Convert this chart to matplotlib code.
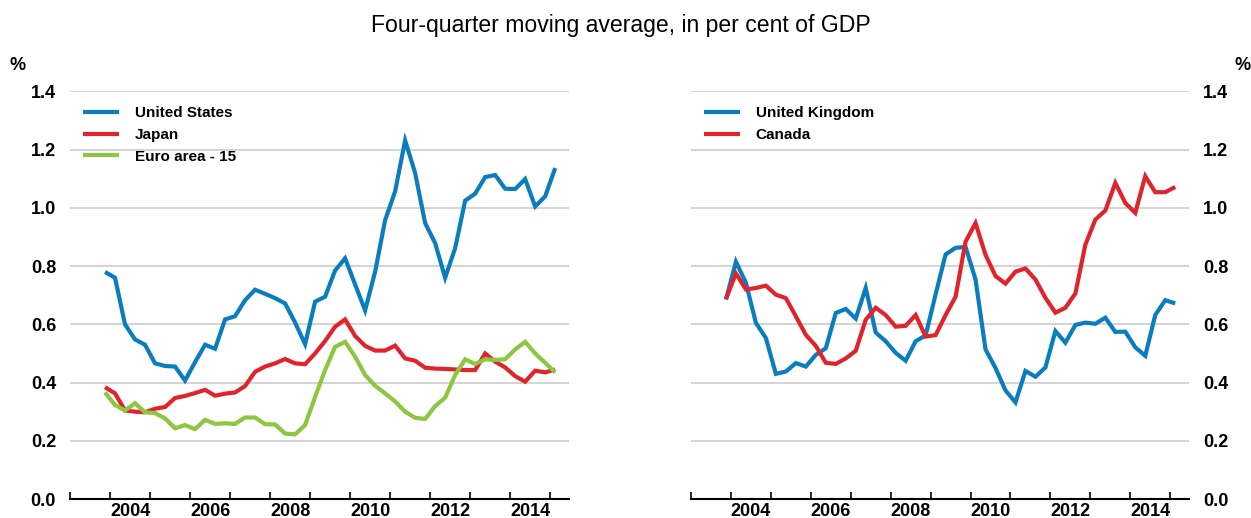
import numpy as np
import matplotlib
matplotlib.use("Agg")
import matplotlib.pyplot as plt

plt.rcParams['font.family'] = ['Liberation Sans', 'DejaVu Sans']

# quarterly observations, 2003Q4 .. 2015Q1 (plotted at mid-quarter)
QUARTERS = np.arange(2003.875, 2015.2, 0.25)

united_states = [0.78, 0.76, 0.60, 0.548, 0.53, 0.466, 0.457, 0.455, 0.407, 0.47,
                 0.53, 0.516, 0.617, 0.628, 0.683, 0.719, 0.705, 0.69, 0.672, 0.606,
                 0.532, 0.678, 0.695, 0.785, 0.827, 0.737, 0.648, 0.781, 0.958, 1.057,
                 1.232, 1.12, 0.948, 0.879, 0.76, 0.862, 1.025, 1.049, 1.106, 1.113,
                 1.066, 1.065, 1.099, 1.005, 1.04, 1.137]
japan = [0.384, 0.363, 0.304, 0.30, 0.298, 0.31, 0.316, 0.347, 0.354, 0.364,
         0.375, 0.355, 0.362, 0.366, 0.388, 0.437, 0.455, 0.466, 0.481, 0.466,
         0.463, 0.50, 0.543, 0.592, 0.617, 0.56, 0.526, 0.51, 0.51, 0.527,
         0.483, 0.475, 0.451, 0.448, 0.447, 0.445, 0.443, 0.443, 0.50, 0.472,
         0.452, 0.422, 0.403, 0.441, 0.435, 0.445]
euro_area = [0.366, 0.323, 0.304, 0.329, 0.298, 0.295, 0.277, 0.243, 0.254, 0.24,
             0.272, 0.258, 0.26, 0.258, 0.28, 0.28, 0.257, 0.256, 0.225, 0.222,
             0.254, 0.351, 0.443, 0.523, 0.54, 0.489, 0.426, 0.389, 0.363, 0.335,
             0.30, 0.279, 0.275, 0.319, 0.348, 0.426, 0.48, 0.464, 0.48, 0.478,
             0.48, 0.514, 0.54, 0.50, 0.468, 0.435]

united_kingdom = [0.685, 0.815, 0.743, 0.605, 0.553, 0.43, 0.438, 0.467, 0.455, 0.495,
                  0.518, 0.639, 0.653, 0.62, 0.725, 0.572, 0.542, 0.502, 0.475, 0.542,
                  0.562, 0.703, 0.84, 0.863, 0.866, 0.754, 0.514, 0.45, 0.373, 0.332,
                  0.44, 0.42, 0.452, 0.577, 0.537, 0.598, 0.606, 0.602, 0.623, 0.574,
                  0.575, 0.521, 0.492, 0.632, 0.683, 0.672]
canada = [0.687, 0.775, 0.72, 0.725, 0.733, 0.702, 0.69, 0.628, 0.564, 0.526,
          0.468, 0.464, 0.483, 0.509, 0.616, 0.657, 0.632, 0.592, 0.595, 0.632,
          0.558, 0.563, 0.632, 0.695, 0.884, 0.948, 0.839, 0.766, 0.74, 0.781,
          0.792, 0.754, 0.691, 0.64, 0.657, 0.706, 0.874, 0.96, 0.991, 1.086,
          1.017, 0.983, 1.109, 1.054, 1.054, 1.072]

left_series = [("United States", united_states), ("Japan", japan), ("Euro area - 15", euro_area)]
right_series = [("United Kingdom", united_kingdom), ("Canada", canada)]

BLUE = '#0A7DC0'
RED = '#E1232B'
GREEN = '#8DC63F'
left_colors = [BLUE, RED, GREEN]
right_colors = [BLUE, RED]

year_ticks = np.arange(2003, 2016)
label_years = [2004, 2006, 2008, 2010, 2012, 2014]
y_ticks = [0.0, 0.2, 0.4, 0.6, 0.8, 1.0, 1.2, 1.4]


def style_axis(ax, side):
    ax.set_xlim(2003, 2015.47)
    ax.set_ylim(0, 1.4)
    for s in ['top', 'left', 'right']:
        ax.spines[s].set_visible(False)
    ax.spines['bottom'].set_linewidth(1.5)
    ax.spines['bottom'].set_color('black')
    ax.set_yticks(y_ticks)
    ax.set_yticklabels([f"{v:.1f}" for v in y_ticks], fontsize=13, fontweight='bold')
    ax.yaxis.grid(True, color='#D4D4D4', linewidth=1.4)
    ax.set_axisbelow(True)
    ax.tick_params(axis='y', length=0, pad=10)
    if side == 'right':
        ax.yaxis.tick_right()
    ax.set_xticks(year_ticks)
    ax.set_xticklabels([])
    ax.tick_params(axis='x', which='major', direction='in', length=5, width=1.2)
    ax.set_xticks([y + 0.5 for y in label_years], minor=True)
    ax.set_xticklabels([str(y) for y in label_years], minor=True, fontsize=13, fontweight='bold')
    ax.tick_params(axis='x', which='minor', length=0, pad=3)


fig = plt.figure(figsize=(12.51, 5.18), dpi=100)
ax1 = fig.add_axes([70 / 1251, 1 - 499 / 518, 499 / 1251, 407.5 / 518])
ax2 = fig.add_axes([691 / 1251, 1 - 499 / 518, 498 / 1251, 407.5 / 518])

for (name, vals), c in zip(left_series, left_colors):
    ax1.plot(QUARTERS, vals, color=c, linewidth=3, label=name,
             solid_joinstyle='miter', solid_capstyle='butt')
for (name, vals), c in zip(right_series, right_colors):
    ax2.plot(QUARTERS, vals, color=c, linewidth=3, label=name,
             solid_joinstyle='miter', solid_capstyle='butt')

style_axis(ax1, 'left')
style_axis(ax2, 'right')

for ax in (ax1, ax2):
    ax.legend(loc='upper left', bbox_to_anchor=(0.01, 0.982), frameon=False,
              prop={'size': 11, 'weight': 'bold'}, handlelength=2.35,
              handletextpad=1.05, labelspacing=0.5, borderaxespad=0.1)

fig.text(0.496, 0.95, "Four-quarter moving average, in per cent of GDP",
         ha='center', va='center', fontsize=16.6)
fig.text(18 / 1251, 1 - 66 / 518, "%", ha='center', va='center', fontsize=13, fontweight='bold')
fig.text(1243 / 1251, 1 - 66 / 518, "%", ha='center', va='center', fontsize=13, fontweight='bold')

fig.savefig("out.png", dpi=100)
